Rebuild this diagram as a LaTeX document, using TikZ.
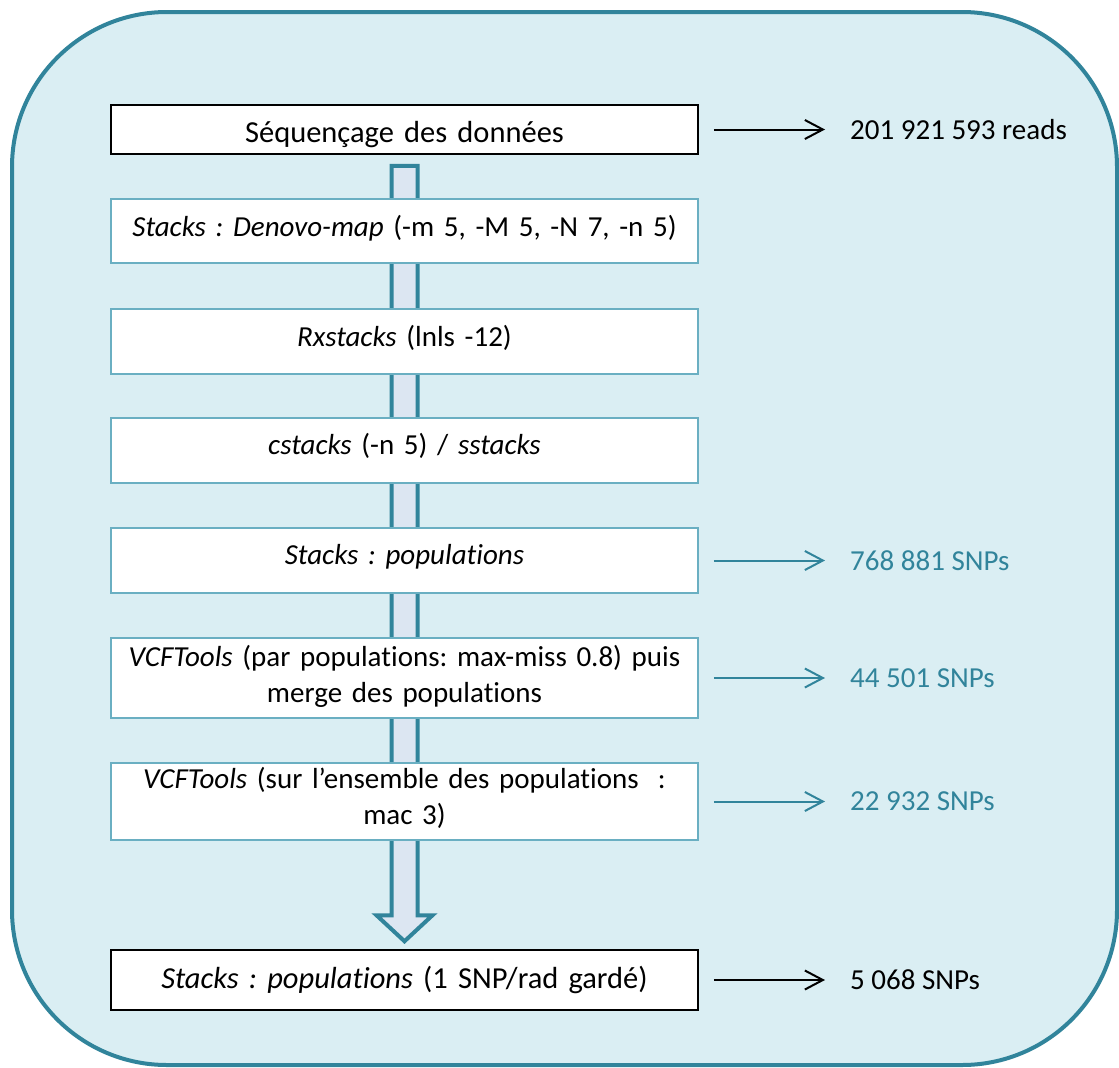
\documentclass[tikz,border=0pt]{standalone}
\usepackage{fontspec}
\setmainfont{Carlito}[Ligatures=NoCommon]
\frenchspacing
\usetikzlibrary{arrows.meta,calc}
\definecolor{bgblue}{HTML}{DAEEF3}
\definecolor{tealb}{HTML}{31849B}
\definecolor{shaftfill}{HTML}{DCE6F2}
\definecolor{boxedge}{HTML}{6AAFC2}
\pgfdeclarelayer{background}
\pgfsetlayers{background,main}
\begin{document}
\begin{tikzpicture}[x=1pt,y=-1pt,
  every node/.style={font=\fontsize{29}{36}\selectfont\frenchspacing},
  stepbox/.style={draw=boxedge, line width=1.5pt, fill=white, text width=575pt,
    inner xsep=6pt, inner ysep=0pt, align=center},
  blackbox/.style={stepbox, draw=black, font=\fontsize{30.5}{36}\selectfont\frenchspacing},
  lbl/.style={anchor=west, inner sep=0pt},
  arr/.style={line width=2pt, -{Straight Barb[length=18pt, width=19pt]}},
  bigarrow/.style={draw=tealb, line width=4pt, fill=shaftfill, line join=miter}
]
\useasboundingbox (0,0) rectangle (1119,1068);

\node[blackbox, text height=37pt, text depth=12pt] (b1) at (404.5,129.5) {Séquençage des données};
\node[stepbox, text height=37pt, text depth=27pt] (b2) at (404.5,231) {\textit{Stacks : Denovo-map} (-m 5, -M 5, -N 7, -n 5)};
\node[stepbox, text height=37pt, text depth=28pt] (b3) at (404.5,341.5) {\textit{Rxstacks} (lnls -12)};
\node[stepbox, text height=36pt, text depth=29pt] (b4) at (404.5,450.5) {\textit{cstacks} (-n 5) / \textit{sstacks}};
\node[stepbox, text height=36pt, text depth=29pt] (b5) at (404.5,560.5) {\textit{Stacks : populations}};
\node[stepbox, text height=28pt, text depth=52pt] (b6) at (404.5,678) {\textit{VCFTools} (par populations: max-miss 0.8) puis\\ merge des populations};
\node[stepbox, text height=25pt, text depth=52pt] (b7) at (404.5,801.5) {\textit{VCFTools} (sur l’ensemble des populations~~:\\ mac 3)};
\node[blackbox, text height=38pt, text depth=22pt] (b8) at (404.5,980) {\textit{Stacks : populations} (1 SNP/rad gardé)};

\node[lbl] (l1) at (850,129.5) {201 921 593 reads};
\node[lbl, text=tealb] (l5) at (850,560.5) {768 881 SNPs};
\node[lbl, text=tealb] (l6) at (850,678) {44 501 SNPs};
\node[lbl, text=tealb] (l7) at (850,801.5) {22 932 SNPs};
\node[lbl] (l8) at (850,980) {5 068 SNPs};

\draw[arr] ([xshift=15pt]b1.east) -- ([xshift=-25pt]l1.west);
\draw[arr, tealb] ([xshift=15pt]b5.east) -- ([xshift=-25pt]l5.west);
\draw[arr, tealb] ([xshift=15pt]b6.east) -- ([xshift=-25pt]l6.west);
\draw[arr, tealb] ([xshift=15pt]b7.east) -- ([xshift=-25pt]l7.west);
\draw[arr] ([xshift=15pt]b8.east) -- ([xshift=-25pt]l8.west);

\begin{pgfonlayer}{background}
\draw[tealb, line width=4pt, fill=bgblue, rounded corners=155pt] (12,12) rectangle (1117,1065);
\draw[bigarrow] ($(b1.south)+(-13,11)$) -- ($(b1.south)+(13,11)$) -- ($(b8.north)+(13,-34)$)
  -- ($(b8.north)+(28,-34)$) -- ($(b8.north)+(0,-8)$) -- ($(b8.north)+(-28,-34)$)
  -- ($(b8.north)+(-13,-34)$) -- cycle;
\end{pgfonlayer}
\end{tikzpicture}
\end{document}
